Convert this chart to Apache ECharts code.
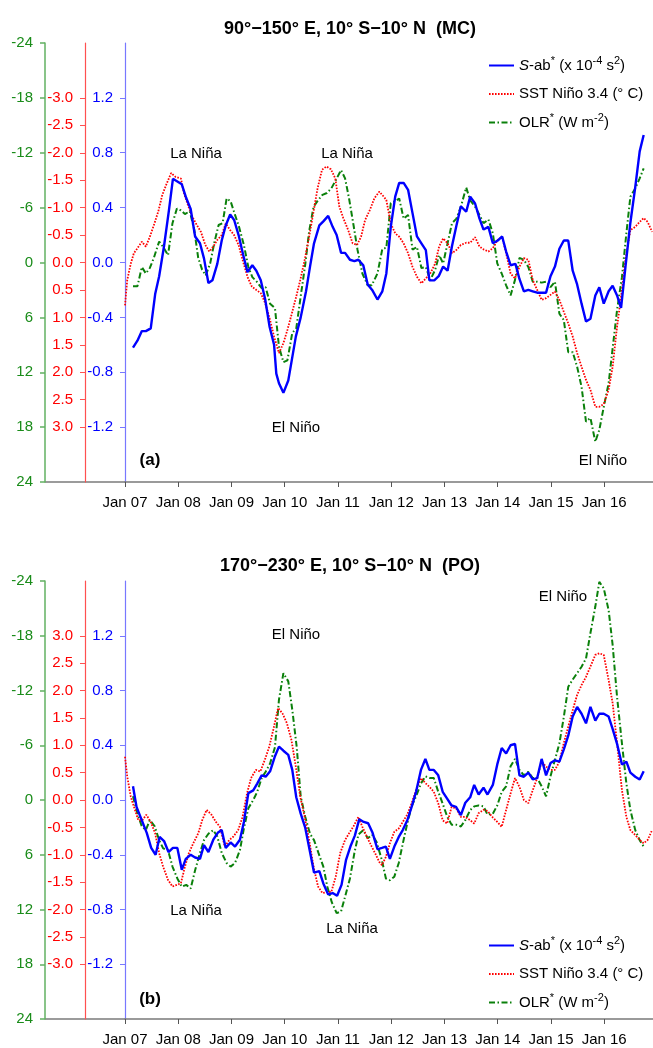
<!DOCTYPE html>
<html>
<head>
<meta charset="utf-8">
<title>S-ab, SST Niño 3.4 and OLR</title>
<script src="https://cdn.jsdelivr.net/npm/echarts@6/dist/echarts.min.js"></script>
<style>
  html, body { margin: 0; padding: 0; background: #fff; }
  #chart { width: 653px; height: 1048px; }
</style>
</head>
<body>
<div id="chart"></div>
<script>
// x is months since Jan 2007
const xTicks = [0, 12, 24, 36, 48, 60, 72, 84, 96, 108]
const xTickLabels = ['Jan 07', 'Jan 08', 'Jan 09', 'Jan 10', 'Jan 11', 'Jan 12', 'Jan 13', 'Jan 14', 'Jan 15', 'Jan 16']
const sstTicks = [-3, -2.5, -2, -1.5, -1, -0.5, 0, 0.5, 1, 1.5, 2, 2.5, 3]
const sabTicks = [-1.2, -0.8, -0.4, 0, 0.4, 0.8, 1.2]

// (a) 90-150E, MC
const mcSab = [[1.8, -0.62], [2.8, -0.57], [3.8, -0.50], [4.7, -0.50], [5.8, -0.48], [6.8, -0.23], [7.7, -0.10], [8.8, 0.12], [9.9, 0.38], [10.8, 0.61], [11.8, 0.59], [12.8, 0.57], [13.8, 0.47], [14.8, 0.39], [15.8, 0.19], [16.9, 0.14], [17.8, 0.03], [18.8, -0.15], [19.7, -0.13], [20.8, -0.01], [21.8, 0.16], [22.7, 0.27], [23.7, 0.35], [24.6, 0.31], [25.6, 0.20], [26.6, 0.06], [27.6, -0.07], [28.7, -0.02], [29.6, -0.06], [30.6, -0.13], [31.6, -0.27], [32.6, -0.47], [33.6, -0.60], [34.1, -0.81], [34.7, -0.88], [35.7, -0.95], [36.8, -0.86], [37.6, -0.71], [38.5, -0.54], [39.6, -0.40], [40.8, -0.21], [41.7, -0.03], [42.6, 0.14], [43.8, 0.27], [44.7, 0.30], [45.8, 0.34], [46.8, 0.26], [47.7, 0.20], [48.7, 0.07], [49.6, 0.07], [50.7, 0.02], [51.7, 0.01], [52.6, 0.02], [53.7, -0.02], [54.7, -0.16], [55.7, -0.20], [56.9, -0.27], [58.0, -0.21], [58.9, -0.08], [59.9, 0.26], [60.9, 0.48], [61.8, 0.58], [62.8, 0.58], [63.8, 0.53], [64.8, 0.36], [65.8, 0.19], [66.8, 0.14], [67.8, 0.09], [68.6, -0.13], [69.7, -0.13], [70.7, -0.10], [71.7, -0.03], [72.7, -0.06], [73.7, 0.12], [74.7, 0.27], [75.7, 0.41], [76.9, 0.37], [77.8, 0.48], [78.9, 0.43], [79.9, 0.32], [80.8, 0.24], [81.9, 0.26], [82.9, 0.14], [84.0, 0.16], [85.0, 0.19], [85.9, 0.08], [86.9, -0.02], [88.0, -0.01], [88.9, -0.12], [89.9, -0.21], [90.9, -0.20], [91.9, -0.21], [92.9, -0.22], [93.9, -0.22], [94.9, -0.22], [95.9, -0.10], [96.9, -0.03], [97.9, 0.10], [98.9, 0.16], [99.9, 0.16], [100.9, -0.06], [101.9, -0.16], [102.9, -0.30], [103.9, -0.43], [104.9, -0.41], [106.0, -0.24], [106.9, -0.18], [107.9, -0.30], [109.0, -0.21], [109.9, -0.17], [110.9, -0.24], [111.8, -0.33], [112.8, -0.03], [113.9, 0.29], [115.0, 0.55], [116.0, 0.81], [116.9, 0.93]]
const mcSst = [[0, 0.78], [0.5, 0.32], [1.3, 0.02], [2.0, -0.17], [2.8, -0.26], [3.8, -0.38], [4.7, -0.29], [5.6, -0.47], [6.5, -0.68], [7.5, -0.93], [8.4, -1.23], [9.4, -1.44], [10.4, -1.63], [11.4, -1.56], [12.6, -1.53], [13.3, -1.26], [14.3, -1.02], [15.2, -0.83], [16.2, -0.68], [17.1, -0.56], [18.1, -0.32], [19.0, -0.20], [19.9, -0.29], [20.8, -0.41], [21.8, -0.50], [22.7, -0.71], [23.7, -0.59], [24.6, -0.50], [25.6, -0.32], [26.6, -0.02], [27.6, 0.26], [28.6, 0.44], [29.6, 0.50], [30.6, 0.56], [31.6, 0.74], [32.6, 1.02], [33.6, 1.35], [34.7, 1.65], [35.7, 1.47], [36.6, 1.23], [37.6, 0.93], [38.5, 0.65], [39.5, 0.32], [40.5, -0.05], [41.5, -0.47], [42.5, -0.93], [43.4, -1.35], [44.4, -1.69], [45.4, -1.75], [46.4, -1.70], [47.4, -1.53], [48.3, -1.02], [49.2, -0.81], [50.3, -0.59], [51.3, -0.35], [52.3, -0.32], [53.2, -0.47], [54.1, -0.77], [55.2, -0.96], [56.2, -1.17], [57.3, -1.29], [58.0, -1.23], [58.9, -1.14], [59.9, -0.71], [60.9, -0.53], [61.8, -0.47], [62.8, -0.35], [63.8, -0.17], [64.8, 0.08], [65.8, 0.26], [66.8, 0.38], [67.8, 0.29], [68.8, 0.20], [69.9, 0.02], [70.8, -0.29], [71.7, -0.44], [72.7, -0.35], [73.7, -0.17], [74.7, -0.23], [75.7, -0.32], [76.9, -0.36], [77.8, -0.36], [78.9, -0.46], [79.9, -0.29], [80.8, -0.24], [81.9, -0.20], [82.9, -0.26], [84.0, -0.41], [85.0, -0.47], [85.9, -0.17], [86.9, 0.20], [87.9, 0.29], [88.9, 0.08], [89.9, -0.08], [90.9, -0.05], [91.9, 0.32], [92.9, 0.50], [93.9, 0.68], [94.9, 0.65], [95.9, 0.59], [96.9, 0.53], [97.9, 0.68], [98.9, 0.90], [99.9, 1.11], [100.9, 1.35], [101.9, 1.65], [102.9, 1.90], [103.9, 2.14], [104.9, 2.32], [106.0, 2.63], [106.9, 2.63], [107.9, 2.58], [109.0, 2.32], [109.9, 1.90], [110.9, 1.17], [111.8, 0.62], [112.8, -0.05], [113.9, -0.59], [115.0, -0.65], [116.0, -0.74], [116.9, -0.81], [117.8, -0.74], [118.8, -0.56]]
const mcOlr = [[1.8, 2.6], [2.8, 2.6], [3.8, 0.5], [4.7, 1.2], [5.6, 0.6], [6.5, -0.5], [7.7, -2.3], [8.6, -1.7], [9.7, -0.8], [10.7, -4.3], [11.7, -5.9], [12.6, -5.7], [13.5, -5.3], [14.6, -5.6], [15.6, -3.6], [16.5, -0.5], [17.4, 0.8], [18.2, 1.4], [19.2, 0.1], [20.1, -2.1], [21.1, -4.1], [22.0, -4.3], [22.9, -7.0], [23.8, -6.7], [24.8, -5.2], [25.7, -3.9], [26.8, -1.9], [27.8, 0.5], [28.7, 1.6], [29.7, 2.1], [30.8, 2.8], [31.7, 2.7], [32.7, 4.5], [33.8, 5.0], [34.7, 9.2], [35.7, 10.9], [36.6, 10.7], [37.7, 7.7], [38.6, 7.2], [39.6, 3.7], [40.6, 0.3], [41.5, -3.4], [42.5, -6.1], [43.5, -6.8], [44.5, -7.4], [45.5, -7.6], [46.5, -8.1], [47.5, -9.0], [48.7, -10.1], [49.6, -9.2], [50.5, -7.0], [51.5, -4.1], [52.4, -1.4], [53.5, 1.2], [54.7, 2.5], [55.6, 2.5], [56.9, 1.2], [58.0, -1.5], [58.9, -1.6], [59.9, -6.5], [60.9, -6.7], [61.8, -7.0], [62.8, -4.8], [63.8, -5.2], [64.8, -1.4], [65.8, -1.7], [66.8, 0.6], [67.8, 0.5], [68.8, 1.9], [69.9, 0.8], [70.8, -0.8], [71.7, 0.1], [72.7, -2.1], [73.7, -4.3], [74.7, -4.8], [75.7, -6.1], [76.9, -8.2], [77.8, -6.8], [78.9, -6.1], [79.9, -5.2], [80.8, -4.3], [81.9, -4.7], [82.9, -3.2], [83.9, 0.1], [84.9, 1.2], [85.9, 2.5], [86.9, 3.6], [87.9, 1.9], [88.9, -0.5], [89.9, -0.3], [90.9, 0.5], [91.9, 2.1], [92.9, 2.1], [93.9, 2.2], [94.9, 2.1], [95.9, 2.7], [96.9, 2.1], [97.9, 5.6], [98.9, 6.3], [99.9, 9.8], [100.9, 9.8], [101.9, 11.4], [102.9, 13.6], [103.9, 17.4], [104.9, 17.0], [106.0, 19.6], [106.9, 18.3], [107.9, 15.8], [109.0, 13.2], [109.9, 9.4], [110.9, 5.2], [112.0, 1.6], [113.0, -3.2], [113.9, -7.2], [115.0, -8.1], [116.0, -9.2], [116.9, -10.3]]

// (b) 170-230E, PO
const poSab = [[1.8, 0.10], [2.6, -0.05], [3.8, -0.15], [4.9, -0.24], [5.9, -0.35], [6.9, -0.40], [7.8, -0.27], [8.8, -0.30], [9.8, -0.38], [10.8, -0.35], [11.8, -0.35], [12.8, -0.51], [13.7, -0.43], [14.8, -0.40], [15.8, -0.42], [16.9, -0.43], [17.8, -0.33], [18.8, -0.38], [19.9, -0.29], [20.9, -0.24], [21.8, -0.22], [22.7, -0.35], [23.8, -0.31], [24.8, -0.34], [25.9, -0.29], [26.8, -0.16], [27.8, 0.05], [28.9, 0.07], [29.8, 0.12], [30.8, 0.18], [31.7, 0.17], [32.7, 0.21], [33.8, 0.32], [34.7, 0.39], [35.7, 0.36], [36.8, 0.33], [37.7, 0.22], [38.6, 0.02], [39.6, -0.10], [40.6, -0.20], [41.7, -0.38], [42.6, -0.53], [43.8, -0.52], [44.7, -0.61], [45.8, -0.69], [46.8, -0.68], [47.8, -0.70], [48.8, -0.62], [49.8, -0.44], [50.8, -0.34], [51.8, -0.26], [52.8, -0.14], [53.8, -0.16], [54.8, -0.17], [55.8, -0.24], [56.9, -0.36], [57.9, -0.35], [58.8, -0.34], [59.7, -0.43], [60.7, -0.34], [61.7, -0.27], [62.6, -0.22], [63.6, -0.15], [64.6, -0.05], [65.6, 0.06], [66.7, 0.22], [67.7, 0.30], [68.6, 0.22], [69.6, 0.22], [70.6, 0.18], [71.6, 0.06], [72.6, 0.01], [73.6, -0.04], [74.6, -0.05], [75.7, -0.11], [76.7, -0.02], [77.8, 0.02], [78.7, 0.11], [79.7, 0.04], [80.8, 0.09], [81.7, 0.04], [82.9, 0.11], [83.9, 0.26], [84.9, 0.38], [85.9, 0.34], [86.9, 0.40], [87.9, 0.41], [88.9, 0.18], [89.9, 0.17], [90.9, 0.20], [91.9, 0.15], [92.9, 0.16], [93.9, 0.30], [94.9, 0.18], [95.9, 0.27], [96.9, 0.29], [97.9, 0.28], [98.9, 0.37], [99.9, 0.47], [100.9, 0.61], [101.9, 0.68], [102.9, 0.63], [103.9, 0.56], [104.9, 0.68], [106.0, 0.58], [106.9, 0.63], [107.9, 0.63], [109.0, 0.61], [109.9, 0.52], [110.9, 0.41], [112.0, 0.26], [113.0, 0.28], [113.9, 0.20], [115.0, 0.17], [116.0, 0.15], [116.9, 0.21]]
const poSst = [[0, 0.79], [0.5, 0.43], [1.3, 0.06], [2.0, -0.12], [3.0, -0.37], [3.9, -0.37], [4.8, -0.27], [5.8, -0.40], [6.8, -0.61], [7.7, -0.97], [8.6, -1.22], [9.7, -1.46], [10.7, -1.58], [11.7, -1.55], [12.6, -1.52], [13.5, -1.22], [14.4, -0.97], [15.4, -0.79], [16.5, -0.61], [17.4, -0.37], [18.4, -0.18], [19.5, -0.27], [20.5, -0.40], [21.4, -0.49], [22.5, -0.85], [23.5, -0.73], [24.4, -0.67], [25.5, -0.55], [26.5, -0.31], [27.5, 0.12], [28.4, 0.40], [29.5, 0.55], [30.5, 0.52], [31.5, 0.73], [32.5, 0.97], [33.5, 1.31], [34.5, 1.68], [35.5, 1.58], [36.5, 1.40], [37.5, 1.10], [38.5, 0.61], [39.5, 0.06], [40.5, -0.31], [41.5, -0.73], [42.5, -1.22], [43.5, -1.58], [44.5, -1.70], [45.5, -1.68], [46.5, -1.68], [47.5, -1.40], [48.5, -0.97], [49.6, -0.73], [50.5, -0.61], [51.5, -0.48], [52.6, -0.31], [53.5, -0.49], [54.5, -0.67], [55.6, -0.85], [56.6, -1.01], [57.3, -1.13], [57.9, -1.19], [58.8, -1.04], [59.7, -0.79], [60.7, -0.58], [61.7, -0.52], [62.6, -0.40], [63.6, -0.27], [64.6, -0.06], [65.6, 0.18], [66.7, 0.40], [67.7, 0.31], [68.6, 0.24], [69.6, 0.15], [70.6, -0.06], [71.6, -0.37], [72.6, -0.43], [73.6, -0.13], [74.6, -0.15], [75.7, -0.31], [76.7, -0.31], [77.8, -0.37], [78.7, -0.43], [79.7, -0.24], [80.8, -0.18], [81.7, -0.20], [82.9, -0.32], [83.9, -0.40], [84.9, -0.49], [85.9, -0.18], [86.9, 0.12], [87.9, 0.40], [88.9, 0.24], [89.9, 0.00], [90.9, -0.06], [91.9, 0.18], [92.9, 0.40], [93.9, 0.70], [94.9, 0.61], [95.9, 0.55], [96.9, 0.55], [97.9, 0.70], [98.9, 1.04], [99.9, 1.34], [100.9, 1.64], [101.9, 1.92], [102.9, 2.10], [103.9, 2.25], [104.9, 2.44], [106.0, 2.65], [106.9, 2.68], [107.9, 2.65], [109.0, 2.19], [109.9, 1.77], [110.9, 1.04], [112.0, 0.18], [113.0, -0.31], [113.9, -0.55], [115.0, -0.64], [116.0, -0.73], [116.9, -0.79], [117.8, -0.73], [118.8, -0.55]]
const poOlr = [[1.8, -0.4], [2.8, 1.5], [3.8, 2.9], [4.7, 3.3], [5.6, 2.2], [6.7, 2.9], [7.7, 4.4], [8.6, 5.3], [9.7, 5.5], [10.7, 7.3], [11.8, 8.6], [12.8, 9.5], [13.8, 9.3], [14.8, 9.7], [15.8, 7.7], [16.9, 5.8], [17.8, 4.4], [18.8, 3.7], [19.9, 3.3], [20.8, 4.0], [21.8, 5.8], [22.9, 6.9], [23.8, 7.3], [24.8, 6.9], [25.9, 5.5], [26.8, 3.1], [27.8, 0.9], [28.9, 0.0], [29.8, -0.9], [30.8, -2.4], [31.7, -3.1], [32.7, -4.0], [33.8, -5.8], [34.7, -11.0], [35.7, -13.9], [36.8, -13.0], [37.7, -9.9], [38.7, -5.8], [39.6, -0.4], [40.6, 1.8], [41.7, 3.7], [42.6, 4.4], [43.6, 5.8], [44.7, 7.3], [45.6, 9.5], [46.6, 11.2], [47.7, 12.4], [48.7, 12.2], [49.6, 10.6], [50.7, 8.6], [51.7, 5.8], [52.6, 3.8], [53.7, 3.3], [54.7, 4.2], [55.7, 3.8], [56.7, 4.6], [57.9, 6.6], [58.8, 8.6], [59.7, 8.8], [60.7, 8.4], [61.7, 6.9], [62.6, 4.8], [63.6, 2.6], [64.6, 0.7], [65.6, -0.4], [66.7, -1.8], [67.7, -2.6], [68.6, -2.4], [69.6, -2.4], [70.6, -0.9], [71.6, 0.4], [72.6, 1.8], [73.6, 2.7], [74.6, 2.7], [75.7, 2.9], [76.7, 2.2], [77.8, 1.1], [78.7, 0.7], [79.7, 0.6], [80.8, 0.7], [81.7, 1.6], [82.9, 1.5], [83.9, 0.6], [84.9, -0.9], [85.9, -1.5], [86.9, -3.7], [87.9, -4.5], [88.9, -3.3], [89.9, -2.7], [90.9, -3.1], [91.9, -2.4], [92.9, -2.4], [93.9, -1.5], [94.9, -0.4], [95.9, -2.6], [96.9, -4.4], [97.9, -6.2], [98.9, -9.1], [99.9, -12.4], [100.9, -13.2], [101.9, -13.9], [102.9, -14.6], [103.9, -15.5], [104.9, -18.3], [106.0, -21.2], [106.9, -23.9], [107.9, -23.2], [109.0, -20.8], [109.9, -17.0], [110.9, -11.3], [112.0, -6.2], [113.0, -1.8], [113.9, 1.1], [115.0, 3.3], [116.0, 4.4], [116.9, 5.1]]

const font = "'Liberation Sans', Arial, Helvetica, sans-serif"
const BLUE = '#0000ff'
const RED = '#ff0000'
const GREEN = '#0a800a'

const chart = echarts.init(document.getElementById('chart'))

// three left axes for one panel: OLR (green), SST (red), S-ab (blue)
function panelAxes (gridIndex, sstInverse) {
  return [
    {
      type: 'value', gridIndex, position: 'left', offset: 80,
      min: -24, max: 24, interval: 6, inverse: true,
      axisLine: { show: true, onZero: false, lineStyle: { color: '#62b062', width: 1.5 } },
      axisTick: { show: true, length: 5, lineStyle: { color: '#62b062', width: 1.5 } },
      axisLabel: { color: '#1a8c1a', fontSize: 15, fontFamily: font, margin: 12, showMinLabel: true, showMaxLabel: true },
      splitLine: { show: false }
    },
    {
      type: 'value', gridIndex, position: 'left', offset: 40,
      min: -4, max: 4, inverse: sstInverse,
      axisLine: { show: true, onZero: false, lineStyle: { color: '#ff5050', width: 1.2 } },
      axisTick: { show: true, length: 5, customValues: sstTicks, lineStyle: { color: '#ff5050' } },
      axisLabel: { color: RED, fontSize: 15, fontFamily: font, margin: 12, customValues: sstTicks, formatter: v => v.toFixed(1) },
      splitLine: { show: false }
    },
    {
      type: 'value', gridIndex, position: 'left', offset: 0,
      min: -1.6, max: 1.6,
      axisLine: { show: true, onZero: false, lineStyle: { color: '#7878ff', width: 1.2 } },
      axisTick: { show: true, length: 5, customValues: sabTicks, lineStyle: { color: '#7878ff' } },
      axisLabel: { color: BLUE, fontSize: 15, fontFamily: font, margin: 12, customValues: sabTicks, formatter: v => v.toFixed(1) },
      splitLine: { show: false }
    }
  ]
}

function timeAxis (gridIndex) {
  return {
    type: 'value', gridIndex, min: 0, max: 119,
    axisLine: { show: true, onZero: false, lineStyle: { color: '#7a7a7a', width: 1.5 } },
    axisTick: { show: true, length: 5, customValues: xTicks, lineStyle: { color: '#555' } },
    axisLabel: {
      color: '#000', fontSize: 15, fontFamily: font, margin: 13, customValues: xTicks,
      formatter: v => xTickLabels[xTicks.indexOf(v)]
    },
    splitLine: { show: false }
  }
}

function panelSeries (xi, y0, sab, sst, olr) {
  return [
    {
      name: 'olr', type: 'line', xAxisIndex: xi, yAxisIndex: y0, data: olr,
      symbol: 'none', lineStyle: { color: GREEN, width: 2, type: [6, 2.5, 1.5, 2.5] }, itemStyle: { color: GREEN }
    },
    {
      name: 'sst', type: 'line', xAxisIndex: xi, yAxisIndex: y0 + 1, data: sst,
      symbol: 'none', lineStyle: { color: RED, width: 1.8, type: [1.6, 1.4] }, itemStyle: { color: RED }
    },
    {
      name: 'sab', type: 'line', xAxisIndex: xi, yAxisIndex: y0 + 2, data: sab,
      symbol: 'none', lineStyle: { color: BLUE, width: 2.4 }, itemStyle: { color: BLUE }
    }
  ]
}

const legendText = {
  sab: '{it|S}-ab{sup|*} (x 10{sup|-4} s{sup|2})',
  sst: 'SST Niño 3.4 (° C)',
  olr: 'OLR{sup|*} (W m{sup|-2})'
}

function legendAt (top) {
  return {
    orient: 'vertical', left: 488, top, padding: 0, itemWidth: 25, itemHeight: 14, itemGap: 7.5,
    data: ['sab', 'sst', 'olr'],
    selectedMode: false,
    // line sample only, no marker
    itemStyle: { color: 'rgba(0,0,0,0)', borderColor: 'rgba(0,0,0,0)', borderWidth: 0 },
    formatter: name => legendText[name],
    textStyle: {
      color: '#000', fontSize: 15, fontFamily: font, lineHeight: 21,
      rich: {
        it: { fontStyle: 'italic', fontSize: 15, fontFamily: font, lineHeight: 21 },
        sup: { fontSize: 11, fontFamily: font, lineHeight: 11, verticalAlign: 'top' }
      }
    }
  }
}

function note (text, x, y, bold) {
  return {
    type: 'text', x, y,
    style: {
      text, fill: '#000', align: 'center', verticalAlign: 'middle',
      font: (bold ? 'bold 17px ' : '15px ') + font
    }
  }
}

chart.setOption({
  animation: false,
  backgroundColor: '#fff',
  title: [
    { text: '90°−150° E, 10° S−10° N  (MC)', left: 345, top: 15, textAlign: 'center', textStyle: { fontSize: 18, fontWeight: 'bold', fontFamily: font, color: '#000' } },
    { text: '170°−230° E, 10° S−10° N  (PO)', left: 345, top: 552, textAlign: 'center', textStyle: { fontSize: 18, fontWeight: 'bold', fontFamily: font, color: '#000' } }
  ],
  grid: [
    { left: 125, top: 43, width: 528, height: 439, outerBoundsMode: 'none' },
    { left: 125, top: 581, width: 528, height: 438, outerBoundsMode: 'none' }
  ],
  xAxis: [timeAxis(0), timeAxis(1)],
  yAxis: [...panelAxes(0, true), ...panelAxes(1, false)],
  legend: [legendAt(55), legendAt(935)],
  series: [
    ...panelSeries(0, 0, mcSab, mcSst, mcOlr),
    ...panelSeries(1, 3, poSab, poSst, poOlr)
  ],
  graphic: [
    { type: 'line', shape: { x1: 45, y1: 482, x2: 125, y2: 482 }, style: { stroke: '#7a7a7a', lineWidth: 1.5 } },
    { type: 'line', shape: { x1: 45, y1: 1019, x2: 125, y2: 1019 }, style: { stroke: '#7a7a7a', lineWidth: 1.5 } },
    note('La Niña', 196, 154),
    note('La Niña', 347, 154),
    note('El Niño', 296, 428),
    note('El Niño', 603, 461),
    note('(a)', 150, 460, true),
    note('El Niño', 296, 635),
    note('El Niño', 563, 597),
    note('La Niña', 196, 911),
    note('La Niña', 352, 929),
    note('(b)', 150, 999, true)
  ]
})

window.onresize = function () {
  chart.resize()
}
</script>
</body>
</html>
